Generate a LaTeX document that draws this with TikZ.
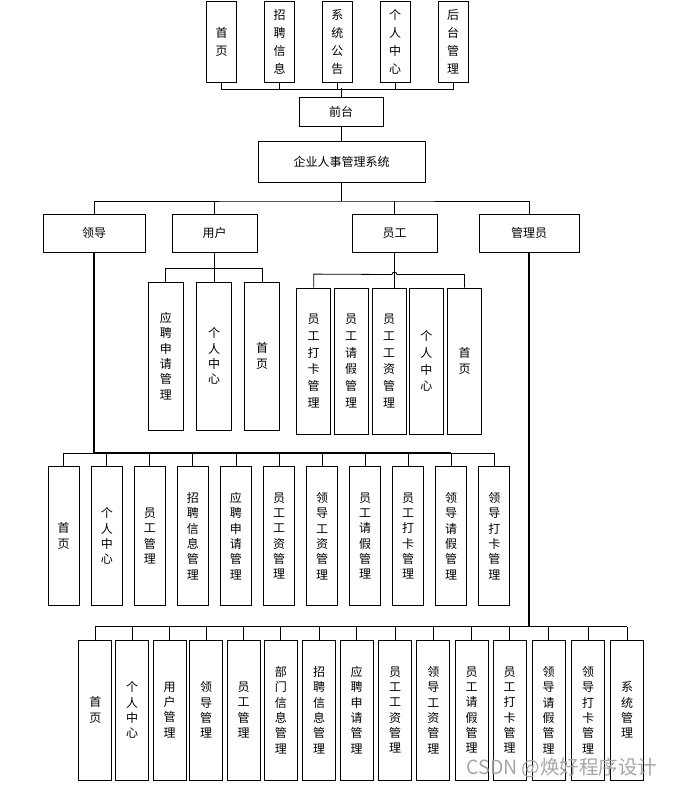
\documentclass[tikz,border=0pt]{standalone}
\usepackage{fontspec}
\newfontfamily\cjk{Noto Sans CJK SC}
\begin{document}
\begin{tikzpicture}[x=1pt,y=-1pt,
    module/.style={draw=black, line width=.8pt, inner sep=0pt, align=center,
        font=\cjk\fontsize{12}{#1}\selectfont},
    module/.default=15.3,
    link/.style={line width=.8pt},
    heavy/.style={line width=1.7pt}]
\useasboundingbox (0,0) rectangle (674,788);
% front end pages
\foreach \x/\txt [count=\i] in {221.5/{首\\页},279.7/{招\\聘\\信\\息},337.3/{系\\统\\公\\告},395/{个\\人\\中\\心},453/{后\\台\\管\\理}}
    \node[module=18, minimum width=30pt, minimum height=80.5pt] (top\i) at (\x,42) {\txt};
\draw[link] (top1.south) -- ++(0,7) -| (top5.south);
\foreach \i in {2,3,4} \draw[link] (top\i.south) -- ++(0,7);
\node[module, minimum width=84pt, minimum height=29pt] (front) at (341,111.5) {前台};
\draw[link] (front.north) -- ++(0,-8.2);
\node[module, minimum width=167pt, minimum height=41pt] (sys) at (341.5,161.5) {企业人事管理系统};
\draw[link] (front.south) -- (front.south |- sys.north);
% roles
\node[module, minimum width=102pt, minimum height=38pt] (leader) at (94,233) {领导};
\node[module, minimum width=85pt, minimum height=38pt] (user) at (214.5,233) {用户};
\node[module, minimum width=85pt, minimum height=38pt] (staff) at (394.5,233) {员工};
\node[module, minimum width=100pt, minimum height=38pt] (admin) at (529,233) {管理员};
\coordinate (rolebus) at (341.5,201);
\draw[link] (sys.south) -- (rolebus);
\draw[link] (leader.north) |- (rolebus) -| (admin.north);
\draw[link] (user.north) -- (user.north |- rolebus);
\draw[link] (staff.north) -- (staff.north |- rolebus);
% user
\foreach \x/\txt [count=\i] in {165.8/{应\\聘\\申\\请\\管\\理},214/{个\\人\\中\\心},262.2/{首\\页}}
    \node[module, minimum width=35pt, minimum height=148pt] (user\i) at (\x,356) {\txt};
\draw[link] (user1.north) -- ++(0,-13) -| (user3.north);
\draw[heavy] (user.south) -- (user.south |- user2.north);
% staff
\foreach \x/\txt [count=\i] in {313.7/{员\\工\\打\\卡\\管\\理},351/{员\\工\\请\\假\\管\\理},389/{员\\工\\工\\资\\管\\理},426.3/{个\\人\\中\\心},464.5/{首\\页}}
    \node[module=16.7, minimum width=34pt, minimum height=146pt] (staff\i) at (\x,361) {\txt};
\draw[link] (staff1.north) -- ++(0,-13.5) -- (392,274.5) .. controls (392,271.3) and (397,271.3) .. (397,274.5) -| (staff5.north);
\draw[link] (staff.south) -- (staff.south |- staff3.north);
% leader
\foreach \txt [count=\i] in {{首\\页},{个\\人\\中\\心},{员\\工\\管\\理},{招\\聘\\信\\息\\管\\理},{应\\聘\\申\\请\\管\\理},{员\\工\\工\\资\\管\\理},{领\\导\\工\\资\\管\\理},{员\\工\\请\\假\\管\\理},{员\\工\\打\\卡\\管\\理},{领\\导\\请\\假\\管\\理},{领\\导\\打\\卡\\管\\理}}
    \node[module, minimum width=31pt, minimum height=139pt] (lead\i) at ({63.7+43.06*(\i-1)},536) {\txt};
\coordinate (leadbus) at (0,453.3);
\foreach \i in {1,...,11} \draw[link] (lead\i.north) -- (lead\i.north |- leadbus);
\draw[link] (lead1.north |- leadbus) -- (lead11.north |- leadbus);
\draw[heavy] (leader.south) |- (lead10.north |- leadbus);
% admin
\foreach \x/\txt [count=\i] in {95.3/{首\\页},132.2/{个\\人\\中\\心},169.5/{用\\户\\管\\理},206.2/{领\\导\\管\\理},243.7/{员\\工\\管\\理},280.8/{部\\门\\信\\息\\管\\理},319/{招\\聘\\信\\息\\管\\理},356.7/{应\\聘\\申\\请\\管\\理},395/{员\\工\\工\\资\\管\\理},433.3/{领\\导\\工\\资\\管\\理},471.7/{员\\工\\请\\假\\管\\理},509.7/{员\\工\\打\\卡\\管\\理},548.7/{领\\导\\请\\假\\管\\理},588/{领\\导\\打\\卡\\管\\理},627/{系\\统\\管\\理}}
    \node[module, minimum width=33pt, minimum height=140pt] (adm\i) at (\x,710) {\txt};
\coordinate (admbus) at (0,626.5);
\foreach \i in {1,...,15} \draw[link] (adm\i.north) -- (adm\i.north |- admbus);
\draw[link] (adm1.north |- admbus) -- (adm15.north |- admbus);
\draw[heavy] (admin.south) |- (adm2.north |- admbus);
\node[text=black!35, font=\cjk\fontsize{19.5}{20}\selectfont] (mark) at (562,768) {CSDN @焕好程序设计};
\end{tikzpicture}
\end{document}
